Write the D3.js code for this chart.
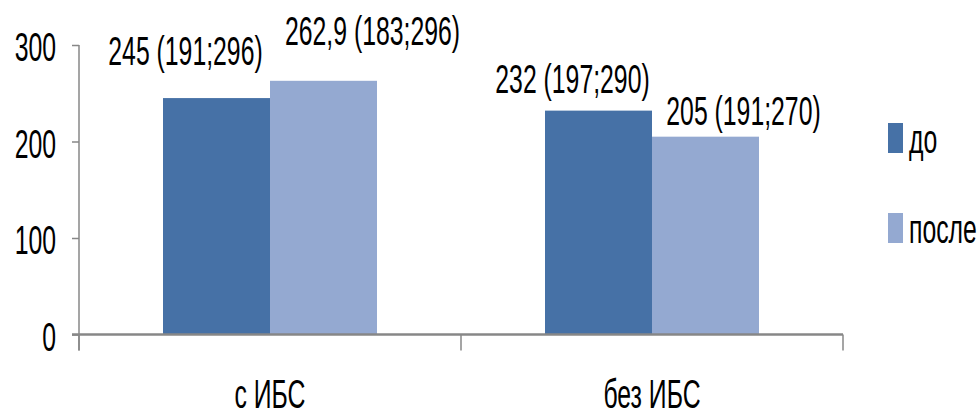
<!DOCTYPE html>
<html>
<head>
<meta charset="utf-8">
<script src="https://cdn.jsdelivr.net/npm/d3@7"></script>
<style>
  html, body { margin: 0; padding: 0; background: #fff; }
  svg text { font-family: "Liberation Sans", Arial, sans-serif; fill: #000; }
</style>
</head>
<body>
<svg id="chart" width="977" height="417"></svg>
<script>
// Data
const categories = ["с ИБС", "без ИБС"];
const seriesNames = ["до", "после"];
const before = [245, 232];
const after = [262.9, 205];
const labels = [
  ["245 (191;296)", "262,9 (183;296)"],
  ["232 (197;290)", "205 (191;270)"]
];
const yTicks = [0, 100, 200, 300];

// Layout
const colors = ["#4671A6", "#94A9D1"];
const axisColor = "#878787";
const plotLeft = 79, plotRight = 843, plotTop = 45, plotBottom = 334.5;
const fontSize = 40, squeeze = 0.62;
// label nudges per [category][series]: dx from bar centre, dy above bar top
const labelNudge = [
  [[-31, 33], [49, 36]],
  [[-26, 18], [38, 12]]
];

const svg = d3.select("#chart");
const x0 = d3.scaleBand().domain(categories).range([plotLeft, plotRight]);
const bw = 107;
const x1 = d3.scaleBand().domain(seriesNames).range([0, bw * 2]);
const y = d3.scaleLinear().domain([0, 300]).range([plotBottom, plotTop]);

function narrowText(sel, tx, ty, anchor, txt) {
  return sel.append("text")
    .attr("transform", `translate(${tx},${ty}) scale(${squeeze},1)`)
    .attr("text-anchor", anchor)
    .attr("font-size", fontSize)
    .text(txt);
}

const rows = categories.map((c, i) => ({ cat: c, vals: [before[i], after[i]], labels: labels[i], i }));

// Bars and value labels
const g = svg.append("g");
rows.forEach(r => {
  const gx = x0(r.cat) + (x0.bandwidth() - bw * 2) / 2;
  seriesNames.forEach((s, j) => {
    g.append("rect")
      .attr("x", gx + x1(s))
      .attr("y", y(r.vals[j]))
      .attr("width", x1.bandwidth())
      .attr("height", y(0) - y(r.vals[j]))
      .attr("fill", colors[j]);
    const cx = gx + x1(s) + x1.bandwidth() / 2 + labelNudge[r.i][j][0];
    narrowText(svg, cx, y(r.vals[j]) - labelNudge[r.i][j][1], "middle", r.labels[j]);
  });
});

// Y axis
const yAxis = d3.axisLeft(y).tickValues(yTicks).tickSize(7).tickFormat(d3.format("d"));
const ya = svg.append("g").attr("transform", `translate(${plotLeft},0)`).call(yAxis);
ya.select(".domain").attr("stroke", axisColor).attr("stroke-width", 1.5).attr("d", `M0,${plotTop}V${plotBottom + 16}`);
ya.selectAll(".tick line").attr("stroke", axisColor).attr("stroke-width", 1.5);
ya.selectAll(".tick text").remove();
yTicks.forEach(t => narrowText(svg, 56, y(t) + 16, "end", t));

// X axis
const xa = svg.append("g").attr("transform", `translate(0,${plotBottom})`);
xa.append("line").attr("x1", plotLeft - 7).attr("x2", plotRight).attr("y1", 0).attr("y2", 0)
  .attr("stroke", axisColor).attr("stroke-width", 2.5);
[...categories.map(c => x0(c)), plotRight].forEach(tx => {
  xa.append("line").attr("x1", tx).attr("x2", tx).attr("y1", 0).attr("y2", 16)
    .attr("stroke", axisColor).attr("stroke-width", 1.5);
});
categories.forEach(c => narrowText(svg, x0(c) + x0.bandwidth() / 2, plotBottom + 73, "middle", c));

// Legend
const lg = svg.append("g");
seriesNames.forEach((s, j) => {
  const ly = 123 + j * 90;
  lg.append("rect").attr("x", 888).attr("y", ly).attr("width", 15).attr("height", 30).attr("fill", colors[j]);
  narrowText(lg, 909, ly + 30, "start", s);
});
</script>
</body>
</html>
